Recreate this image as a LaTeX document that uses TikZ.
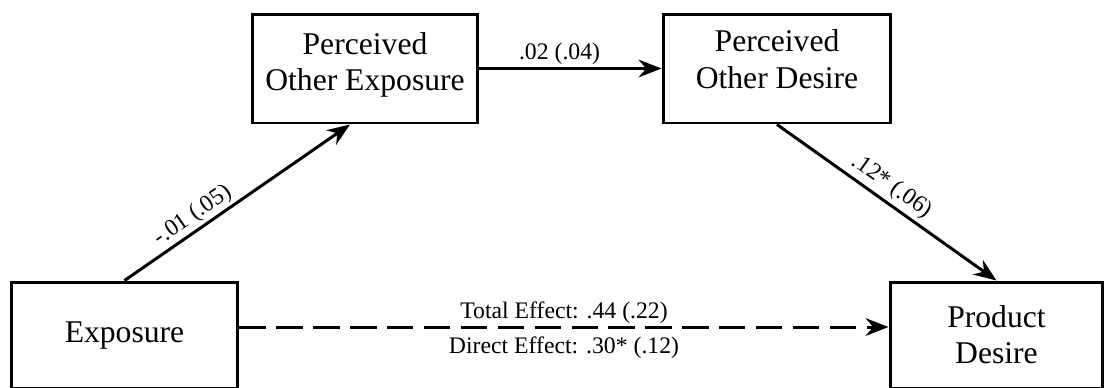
\documentclass[tikz,border=0pt]{standalone}
\usepackage{fontspec}
\setmainfont{Liberation Serif}
\usetikzlibrary{arrows.meta}

\begin{document}
\begin{tikzpicture}[
  x=0.02cm, y=-0.02cm,
  var/.style={draw,line width=1.7pt,align=center,inner sep=0pt,font=\fontsize{18}{20.5}\selectfont},
  lab/.style={font=\fontsize{13.5}{16}\selectfont,inner sep=1.2pt},
  eff/.style={line width=1.7pt,-{Stealth[length=13pt,width=10pt]}},
]
  \useasboundingbox (0,0) rectangle (1106,387);
  \node[var,minimum width=4.54cm,minimum height=2.12cm] (expo) at (124.5,335) {Exposure};
  \node[var,minimum width=4.52cm,minimum height=2.18cm,text depth=7.9pt] (poe) at (365,68.5) {Perceived\\Other Exposure};
  \node[var,minimum width=4.56cm,minimum height=2.18cm,text depth=10.8pt] (pod) at (777,68.5) {Perceived\\Other Desire};
  \node[var,minimum width=4.26cm,minimum height=2.12cm] (pd) at (996.5,335) {Product\\Desire};
  \draw[eff] (expo.north) -- node[lab,sloped,above,pos=0.34] {-.01 (.05)} ([xshift=-0.3cm]poe.south);
  \draw[eff] (poe) -- node[lab,above=0pt,pos=0.44] {.02 (.04)} (pod);
  \draw[eff] (pod.south) -- node[lab,sloped,above=1pt,pos=0.48] {.12* (.06)} (pd.north);
  \draw[eff,dash pattern=on 15pt off 6pt] ([yshift=0.16cm]expo.east)
    -- node[lab,above=0pt,pos=0.5] {Total Effect: .44 (.22)}
       node[lab,below=3.5pt,pos=0.5] {Direct Effect: .30* (.12)} ([yshift=0.16cm]pd.west);
\end{tikzpicture}
\end{document}
